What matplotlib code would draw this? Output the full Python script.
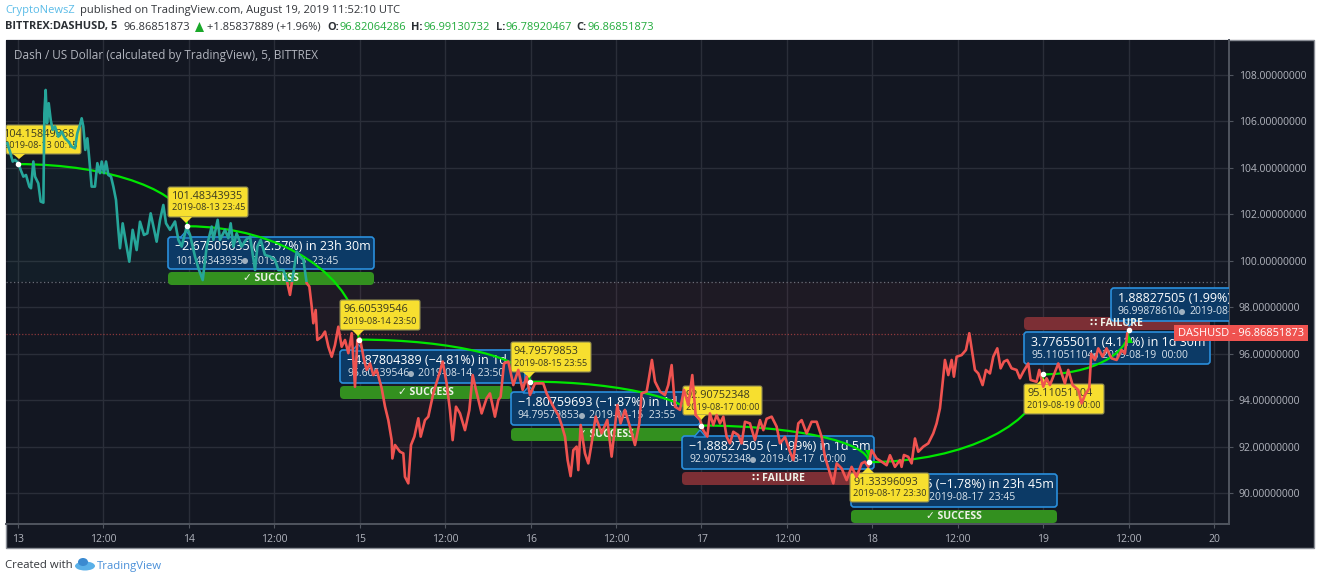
import matplotlib
matplotlib.use('Agg')
import matplotlib.pyplot as plt
import numpy as np
from matplotlib.patches import FancyBboxPatch, Polygon, Rectangle, PathPatch, Ellipse
from matplotlib.path import Path
from matplotlib.transforms import Affine2D

BG, GRID, AXIS, TXT = '#131722', '#2a2e39', '#50555f', '#b2b5be'
TEAL, RED, GREEN, YELLOW = '#26a69a', '#ef5350', '#00e600', '#f7df2f'
BLUE_FILL, BLUE_EDGE, OK_BAR, BAD_BAR = '#0c3a66', '#2a8fdc', '#33901f', '#7c2f35'
FONT = ['Open Sans', 'DejaVu Sans']
plt.rcParams.update({'font.family': FONT, 'font.size': 8})

# price trace, hours since 2019-08-13 00:00
hours_13 = [-1.5, -1.13, -0.75, -0.42, 0.05, 0.37, 0.75, 1.12, 1.59, 1.82, 2.15, 2.39, 2.85, 3.18, 3.56,
            3.7, 3.88, 4.07, 4.31, 4.59, 4.87, 5.19, 5.66, 6.13, 6.6, 7.07, 7.54, 8.0, 8.33, 8.71, 8.94,
            9.17, 9.45, 9.74, 10.02, 10.34, 10.81, 11.14, 11.51, 11.75, 12.08, 12.36, 12.69, 13.06,
            13.39, 13.76, 14.09, 14.32, 14.7, 15.17, 15.63, 16.1, 16.66, 17.13, 17.69, 18.16, 18.63,
            19.47, 19.94, 20.41, 20.79, 21.35, 22.05, 22.52, 22.99, 23.69]
price_13 = [105.06, 104.7, 104.27, 104.34, 104.2, 103.91, 103.62, 103.69, 103.19, 103.12, 104.27, 103.62,
            103.33, 102.55, 102.5, 106.35, 107.35, 105.92, 106.78, 106.06, 105.63, 105.78, 105.34, 105.56,
            105.27, 105.13, 104.91, 104.84, 105.49, 105.85, 106.13, 105.78, 104.77, 105.27, 104.34, 103.19,
            103.19, 104.2, 103.77, 104.27, 103.77, 104.27, 103.69, 103.62, 103.19, 102.62, 101.33, 100.54,
            101.61, 100.75, 99.96, 101.33, 100.46, 101.68, 101.11, 101.18, 102.04, 100.82, 101.75, 102.4,
            101.61, 101.33, 101.69, 100.9, 100.61, 101.47]
hours_14 = [24.16, 24.86, 25.33, 25.94, 26.5, 27.2, 27.44, 28.04, 28.37, 29.07, 29.54, 29.87, 30.25, 30.71,
            31.42, 32.02, 32.59, 33.29, 33.62, 34.08, 34.69, 35.4, 36.1, 36.57, 37.27, 37.74, 38.2, 38.67,
            39.14, 39.61, 40.08, 40.55, 40.92, 41.25, 41.48, 41.81, 42.04, 42.65, 43.12, 43.59, 44.06,
            44.52, 44.99, 45.46, 45.93, 46.4, 46.87, 47.33]
price_14 = [101.11, 100.18, 99.68, 99.17, 100.61, 101.47, 100.9, 101.76, 100.9, 101.33, 100.97, 101.61,
            100.61, 101.18, 100.61, 100.9, 101.04, 99.6, 100.61, 100.9, 100.25, 100.18, 100.04, 99.6, 99.6,
            99.17, 98.53, 99.46, 100.39, 100.18, 100.04, 99.03, 98.89, 98.03, 97.31, 97.88, 96.59, 96.73,
            96.95, 96.3, 95.87, 96.37, 97.16, 96.3, 96.59, 96.02, 96.88, 94.58]
hours_15 = [47.66, 48.03, 48.6, 48.97, 49.44, 49.91, 50.38, 51.08, 51.55, 52.01, 52.48, 52.58, 52.95, 53.65,
            54.12, 54.35, 54.82, 55.2, 55.67, 56.23, 56.56, 57.16, 57.63, 58.33, 59.04, 59.65, 60.21, 60.67,
            61.05, 61.52, 62.08, 62.78, 63.39, 63.86, 64.33, 65.12, 65.82, 66.29, 66.99, 67.46, 67.79, 68.26,
            68.87, 69.57, 70.27, 70.88, 71.44, 71.91, 72.61, 73.32]
price_15 = [96.59, 96.66, 95.73, 95.3, 95.58, 95.08, 95.3, 94.51, 93.72, 93.14, 92.28, 91.49, 92.07, 91.78,
            91.71, 90.7, 90.42, 92.07, 92.43, 93.22, 92.43, 93.14, 93.29, 94.29, 95.01, 95.66, 94.72, 93.57,
            92.28, 93.72, 93.43, 92.71, 93.57, 95.08, 94.44, 93.43, 94.08, 94.29, 93.29, 94.0, 94.15, 95.58,
            95.66, 94.65, 95.3, 94.44, 95.01, 94.22, 94.72, 94.72]
hours_16 = [73.78, 74.25, 75.19, 75.89, 76.36, 76.83, 77.2, 77.62, 78.0, 78.46, 78.7, 79.03, 79.63, 80.1,
            80.57, 81.13, 81.98, 82.77, 83.38, 84.18, 84.64, 85.25, 85.95, 86.66, 87.27, 87.59, 88.3, 88.58,
            89.04, 89.47, 90.17, 90.87, 91.34, 91.81, 92.28, 92.98, 93.54, 94.15, 94.71, 95.18, 95.79]
price_16 = [94.72, 94.29, 93.72, 93.36, 92.93, 92.43, 91.42, 90.73, 91.85, 92.0, 90.99, 92.93, 91.71, 91.28,
            92.14, 93.29, 92.57, 93.15, 91.57, 93.79, 93.0, 93.58, 92.86, 92.07, 93.0, 94.29, 94.37, 94.87,
            95.73, 94.8, 94.37, 94.22, 94.65, 95.51, 93.72, 93.58, 94.44, 93.79, 95.08, 93.36, 93.15]
hours_17 = [96.25, 96.82, 97.19, 97.66, 98.13, 98.6, 99.07, 99.53, 100.0, 100.47, 101.17, 101.64, 102.11,
            102.81, 103.51, 104.22, 104.69, 105.15, 105.86, 106.56, 107.03, 107.73, 108.43, 108.9, 109.6,
            110.07, 110.77, 111.47, 112.18, 112.88, 113.35, 114.05, 114.52, 114.99, 115.69, 116.39, 117.09,
            117.79, 118.5, 118.96, 119.43]
price_17 = [92.71, 92.43, 93.43, 92.93, 93.36, 93.0, 93.29, 92.43, 92.14, 92.64, 92.5, 92.14, 93.07, 93.0,
            92.28, 93.14, 92.71, 93.2, 93.29, 92.86, 92.14, 92.42, 91.78, 91.42, 93.0, 93.14, 92.57, 93.07,
            93.07, 92.42, 91.56, 90.85, 90.42, 91.28, 91.06, 90.56, 91.13, 90.7, 91.28, 91.35, 91.13]
hours_18 = [119.9, 120.6, 121.31, 122.01, 122.48, 123.18, 123.88, 124.11, 124.44, 125.05, 125.52, 125.99,
            126.45, 127.16, 127.86, 128.56, 129.03, 129.5, 129.82, 130.2, 130.67, 131.14, 131.46, 131.84,
            132.54, 133.15, 133.62, 133.94, 134.41, 134.88, 135.49, 135.96, 136.52, 136.99, 137.55, 138.02,
            138.49, 138.95, 139.56, 140.26, 140.73, 141.2, 141.9, 142.23, 143.07, 143.45]
price_18 = [91.85, 91.49, 91.35, 91.2, 91.63, 91.13, 91.42, 91.13, 91.64, 91.56, 91.28, 92.35, 91.78, 92.0,
            92.14, 92.57, 93.0, 93.65, 94.58, 95.73, 95.08, 95.73, 95.01, 95.87, 95.94, 96.16, 96.88, 96.23,
            95.3, 95.15, 94.65, 95.3, 95.15, 95.87, 96.23, 95.37, 95.66, 95.73, 95.37, 95.3, 94.94, 95.22,
            95.58, 94.87, 94.79, 95.3]
hours_19 = [144.01, 144.48, 144.95, 145.41, 146.12, 147.05, 147.52, 148.13, 148.93, 149.4, 149.86, 150.47,
            150.75, 151.27, 151.74, 152.34, 152.9, 153.61, 154.31, 155.01, 155.48, 155.81]
price_19 = [94.58, 94.94, 94.65, 95.01, 95.58, 94.72, 95.3, 94.65, 94.44, 93.86, 94.22, 94.51, 96.0, 95.73,
            96.23, 95.87, 96.23, 95.8, 95.73, 96.16, 96.0, 96.87]

# pattern anchors (hour, price)
anchor_hours = [0.0, 23.75, 47.83, 71.92, 96.0, 119.5, 144.0, 156.0]
anchor_price = [104.15849368, 101.48343935, 96.60539546, 94.79579853, 92.90752348, 91.33396093, 95.11051104, 96.99878610]

BASELINE = 99.09
LAST_PRICE = 96.86851873
y_ticks = [90, 92, 94, 96, 98, 100, 102, 104, 106, 108]
x_ticks = [0, 12, 24, 36, 48, 60, 72, 84, 96, 108, 120, 132, 144, 156, 168]
x_labels = ['13', '12:00', '14', '12:00', '15', '12:00', '16', '12:00', '17', '12:00', '18', '12:00', '19', '12:00', '20']

W, H = 1320, 582
fig = plt.figure(figsize=(W / 100, H / 100), dpi=100, facecolor='white')
px = Affine2D().scale(1, -1).translate(0, H)  # reference pixels -> display

fig.patches.append(Rectangle((6, 40), 1308, 508, transform=px, fc=BG, ec='#8a8e96', lw=1.0, zorder=-1))
ax = fig.add_axes([6 / W, 1 - 524 / H, 1223 / W, 484 / H], facecolor=BG)
ax.set_xlim(-1.69, 170.1)
ax.set_ylim(88.67, 109.5)
ax.set_axisbelow(True)
ax.grid(color=GRID, lw=1.0)
ax.set_xticks(x_ticks, x_labels)
ax.set_yticks(y_ticks, ['%.8f' % v for v in y_ticks])
ax.yaxis.tick_right()
ax.tick_params(colors=TXT, labelsize=7.5, length=3, color=AXIS, pad=4)
for s in ('top', 'left'):
    ax.spines[s].set_visible(False)
for s in ('right', 'bottom'):
    ax.spines[s].set_color(AXIS)
    ax.spines[s].set_linewidth(1.4)

hours = np.array(hours_13 + hours_14 + hours_15 + hours_16 + hours_17 + hours_18 + hours_19)
price = np.array(price_13 + price_14 + price_15 + price_16 + price_17 + price_18 + price_19)

ax.fill_between(hours, price, BASELINE, where=price >= BASELINE, interpolate=True, color=TEAL, alpha=0.05, lw=0, zorder=1)
ax.fill_between(hours, price, BASELINE, where=price <= BASELINE, interpolate=True, color=RED, alpha=0.05, lw=0, zorder=1)
ax.axhline(BASELINE, color='#6a6e78', ls=(0, (1, 2)), lw=0.9, zorder=2)
ax.axhline(LAST_PRICE, color=RED, alpha=0.55, ls=(0, (1, 1.5)), lw=0.9, zorder=2)


def box(x0, y0, x1, y1, fc, ec='none', lw=0, z=3, r=3):
    ax.add_patch(FancyBboxPatch((x0, y0), x1 - x0, y1 - y0, boxstyle='round,pad=0,rounding_size=%s' % r,
                                transform=px, fc=fc, ec=ec, lw=lw, zorder=z))


def label(x, y, s, size, color='white', z=3.1, **kw):
    ax.text(x, y, s, transform=px, fontsize=size, color=color, va='center', ha=kw.pop('ha', 'left'), zorder=z,
            clip_on=True, **kw)


def lines(x0, y0, top, value, date):
    # the two text rows of a blue box, with the clock dot between value and date
    off = 77 if len(value) > 11 else 71
    label(x0 + 7, y0 + 10, top, 9.0, fontweight='medium')
    label(x0 + 7, y0 + 24, value, 7.5, color='#d8e2ea')
    ax.add_patch(Ellipse((x0 + off, y0 + 24), 6, 6, transform=px, fc='#9fb0bf', lw=0, zorder=3.1))
    label(x0 + off + 7, y0 + 24, date, 7.5, color='#d8e2ea')


def note(x0, y0, x1, y1, ptr, top, value, date, bar, x2=None):
    # blue measure box with its result bar
    box(x0, y0, x1, y1, BLUE_FILL, BLUE_EDGE, 1.2)
    ax.add_patch(Polygon([(ptr - 6, y0 + 1), (ptr, y0 - 6), (ptr + 6, y0 + 1)], transform=px, fc=BLUE_FILL,
                         ec=BLUE_EDGE, lw=1.0, zorder=3))
    lines(x0, y0, top, value, date)
    barx1 = x1 if x2 is None else x2
    ok = bar == 'SUCCESS'
    by0, by1 = y1 + 3, y1 + 16
    box(x0, by0, barx1, by1, OK_BAR if ok else BAD_BAR, r=4)
    label((x0 + barx1) / 2, (by0 + by1) / 2, ('\u2713 ' if ok else '\u2237 ') + bar, 7.6, ha='center', fontweight='bold', color='#eef2e8')


note(168, 237, 374, 269, 186, '\u22122.67505635 (\u22122.57%) in 23h 30m', '101.48343935', '2019-08-13  23:45', 'SUCCESS')
note(340, 350, 525, 383, 358, '\u22124.87804389 (\u22124.81%) in 1d 5m', '96.60539546', '2019-08-14  23:50', 'SUCCESS', 512)
note(511, 392, 700, 425, 529, '\u22121.80759693 (\u22121.87%) in 1d 5m', '94.79579853', '2019-08-15  23:55', 'SUCCESS')
note(682, 436, 874, 469, 700, '\u22121.88827505 (\u22121.99%) in 1d 5m', '92.90752348', '2019-08-17  00:00', 'FAILURE')
note(851, 474, 1057, 507, 868, '\u22121.57356255 (\u22121.78%) in 23h 45m', '91.33396093', '2019-08-17  23:45', 'SUCCESS')
# these two have the bar on top
box(1024, 317, 1210, 330, BAD_BAR, r=4)
label(1117, 323.5, '\u2237 FAILURE', 7.6, ha='center', fontweight='bold', color='#eef2e8')
box(1024, 332, 1210, 364, BLUE_FILL, BLUE_EDGE, 1.2)
lines(1024, 332, '3.77655011 (4.11%) in 1d 30m', '95.11051104', '2019-08-19  00:00')
box(1111, 288, 1240, 321, BLUE_FILL, BLUE_EDGE, 1.2)
ax.add_patch(Polygon([(1123, 320), (1129, 326), (1135, 320)], transform=px, fc=BLUE_FILL, ec=BLUE_EDGE, lw=1.0, zorder=3))
lines(1111, 288, '1.88827505 (1.99%)', '96.99878610', '2019-08-')

# curved pattern legs
for i in range(len(anchor_hours) - 1):
    x0, x1 = anchor_hours[i], anchor_hours[i + 1]
    y0, y1 = anchor_price[i], anchor_price[i + 1]
    verts = [(x0, y0), (x0 + 0.55 * (x1 - x0), y0), (x1, y1 - 0.55 * (y1 - y0)), (x1, y1)]
    ax.add_patch(PathPatch(Path(verts, [Path.MOVETO, Path.CURVE4, Path.CURVE4, Path.CURVE4]), fc='none',
                           ec=GREEN, lw=1.6, zorder=4))
    # arrow head just before the end point
    up_leg = y1 > y0
    ax.plot([x1], [y1 + (-0.35 if up_leg else 0.35)], ls='', marker='^' if up_leg else 'v', ms=5.5, color=GREEN, mew=0, zorder=4)
ax.plot(anchor_hours, anchor_price, ls='', marker='o', ms=3, color='white', zorder=7)

# yellow tags: x0, y0, x1, y1, pointer x, pointer y, value, date
tags = [(6, 125, 81, 154, 19, 159, '104.15849368', '2019-08-13 00:15', 4),
        (168, 187, 248, 217, 186, 223, '101.48343935', '2019-08-13 23:45', 172),
        (340, 300, 420, 330, 358, 336, '96.60539546', '2019-08-14 23:50', 343),
        (511, 342, 591, 372, 529, 378, '94.79579853', '2019-08-15 23:55', 514),
        (683, 386, 762, 415, 700, 421, '92.90752348', '2019-08-17 00:00', 686),
        (850, 473, 929, 502, 868, 467, '91.33396093', '2019-08-17 23:30', 853),
        (1024, 384, 1104, 414, 1043, 378, '95.11051104', '2019-08-19 00:00', 1027)]
for x0, y0, x1, y1, pt_x, pt_y, val, date, tx in tags:
    box(x0, y0, x1, y1, YELLOW, '#8c8850', 0.8, z=5, r=2)
    edge = y1 if pt_y > y1 else y0
    ax.add_patch(Polygon([(pt_x - 6, edge), (pt_x, pt_y), (pt_x + 6, edge)], transform=px, fc=YELLOW, lw=0, zorder=5))
    label(tx, y0 + 9.5, val, 7.8, color='#3a3a20', z=5.1)
    label(tx, y0 + 21, date, 6.6, color='#3a3a20', z=5.1)

# price, split in colour at the baseline
xlim, ylim = ax.get_xlim(), ax.get_ylim()
up, = ax.plot(hours, price, color=TEAL, lw=1.9, zorder=6)
dn, = ax.plot(hours, price, color=RED, lw=1.9, zorder=6)
up.set_clip_path(Rectangle((xlim[0], BASELINE), xlim[1] - xlim[0], ylim[1] - BASELINE, transform=ax.transData))
dn.set_clip_path(Rectangle((xlim[0], ylim[0]), xlim[1] - xlim[0], BASELINE - ylim[0], transform=ax.transData))

ax.text(14, 55, 'Dash / US Dollar (calculated by TradingView), 5, BITTREX', transform=px, fontsize=8.5,
        color=TXT, va='center', fontweight='medium', zorder=8)

# last price tag on the scale
fig.patches.append(Rectangle((1174, 325), 134, 16, transform=px, fc=RED, lw=0, zorder=9))
fig.text(1241, 333, 'DASHUSD - 96.86851873', transform=px, fontsize=7.9, color='white', ha='center', va='center', zorder=10)


def head(x, y, s, color='#33363b', size=8.0, **kw):
    fig.text(x, y, s, transform=px, fontsize=size, color=color, va='center', **kw)


GV = '#22ab3c'
head(5, 11, 'CryptoNewsZ', '#5bbce8')
head(80, 11, 'published on TradingView.com, August 19, 2019 11:52:10 UTC')
head(5, 27, 'BITTREX:DASHUSD, 5', '#2a2e33', size=7.9, fontweight='bold')
head(124, 27, '96.86851873')
fig.patches.append(Polygon([(195, 32), (199.5, 22), (204, 32)], transform=px, fc='#1aa82a', lw=0))
head(207, 27, '+1.85837889 (+1.96%)')
for x, name, vx, val in [(327, 'O:', 340, '96.82064286'), (411, 'H:', 423, '96.99130732'),
                         (496, 'L:', 505, '96.78920467'), (576, 'C:', 588, '96.86851873')]:
    head(x, 27, name, '#2a2e33', size=7.9, fontweight='bold')
    head(vx, 27, val, GV)
head(5, 566, 'Created with', size=8.2)
head(97, 566, 'TradingView', '#4a90d9', size=8.2)
fig.patches.append(Ellipse((85, 566), 20, 9, transform=px, fc='#5ab0e8', lw=0))
fig.patches.append(Ellipse((83, 562), 10, 8, transform=px, fc='#3b8ad0', lw=0))

fig.savefig('out.png', dpi=100, facecolor='white')
